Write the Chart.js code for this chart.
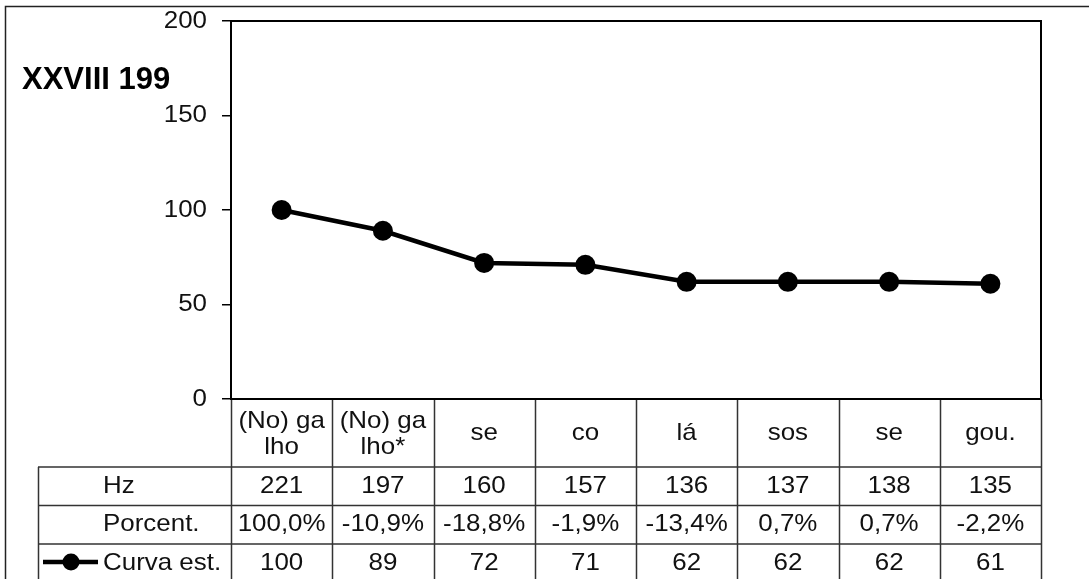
<!DOCTYPE html>
<html>
<head>
<meta charset="utf-8">
<script src="https://cdn.jsdelivr.net/npm/chart.js@4/dist/chart.umd.min.js"></script>
<style>
  html, body { margin: 0; padding: 0; background: #fff; }
  #wrap { width: 1089px; height: 579px; position: relative; }
</style>
</head>
<body>
<div id="wrap"><canvas id="myChart"></canvas></div>
<script>
// data
var title = "XXVIII 199";
var categories = [["(No) ga", "lho"], ["(No) ga", "lho*"], ["se"], ["co"], ["lá"], ["sos"], ["se"], ["gou."]];
var hzValues = ["221", "197", "160", "157", "136", "137", "138", "135"];
var percentValues = ["100,0%", "-10,9%", "-18,8%", "-1,9%", "-13,4%", "0,7%", "0,7%", "-2,2%"];
var curveValues = [100, 89, 72, 71, 62, 62, 62, 61];
var rowLabels = ["Hz", "Porcent.", "Curva est."];
var yTicks = [0, 50, 100, 150, 200];

var FONT = "'Liberation Sans', Arial, sans-serif";
var STRETCH = 1.08; // the original text is a bit wider than normal

function wideText(c, txt, x, y, align) {
    c.save();
    c.translate(x, y);
    c.scale(STRETCH, 1);
    c.textAlign = align;
    c.fillText(txt, 0, 0);
    c.restore();
}

// draws the frame, the title, y labels and the data table under the plot
var tablePlugin = {
    id: 'dataTable',
    afterDraw: function(chart) {
        var c = chart.ctx;
        var area = chart.chartArea;
        var x = chart.scales.x;
        var y = chart.scales.y;
        var n = categories.length;
        var colW = (area.right - area.left) / n;
        var catBottom = 467, row1 = 505.5, row2 = 544, tableLeft = 38;

        c.save();
        // outer frame (cut off right and bottom like the original)
        c.strokeStyle = '#222';
        c.lineWidth = 1.5;
        c.strokeRect(5.5, 6.5, 1200, 700);

        // title
        c.fillStyle = '#000';
        c.font = 'bold 31px ' + FONT;
        c.textAlign = 'left';
        c.textBaseline = 'alphabetic';
        c.fillText(title, 22, 89);

        // table lines
        c.strokeStyle = '#333';
        c.lineWidth = 1.5;
        c.beginPath();
        for (var i = 0; i <= n; i++) {
            var lx = Math.round(area.left + i * colW) + 0.5;
            c.moveTo(lx, area.bottom);
            c.lineTo(lx, 579);
        }
        c.moveTo(tableLeft + 0.5, catBottom);
        c.lineTo(tableLeft + 0.5, 579);
        [catBottom, row1, row2].forEach(function(yy) {
            c.moveTo(tableLeft, yy);
            c.lineTo(area.right, yy);
        });
        c.stroke();

        // plot border
        c.strokeStyle = '#000';
        c.lineWidth = 2;
        c.strokeRect(area.left, area.top, area.right - area.left, area.bottom - area.top);

        c.fillStyle = '#111';
        c.font = '24px ' + FONT;
        c.textBaseline = 'middle';

        // y tick labels
        yTicks.forEach(function(v) {
            wideText(c, String(v), 207, y.getPixelForValue(v), 'right');
        });

        // table texts
        var catMid = (area.bottom + catBottom) / 2;
        for (var j = 0; j < n; j++) {
            var cx = x.getPixelForValue(j);
            var lines = categories[j];
            if (lines.length == 1) {
                wideText(c, lines[0], cx, catMid, 'center');
            } else {
                wideText(c, lines[0], cx, catMid - 12, 'center');
                wideText(c, lines[1], cx, catMid + 14, 'center');
            }
            wideText(c, hzValues[j], cx, (catBottom + row1) / 2, 'center');
            wideText(c, percentValues[j], cx, (row1 + row2) / 2, 'center');
            wideText(c, String(curveValues[j]), cx, row2 + 19, 'center');
        }

        wideText(c, rowLabels[0], 103, (catBottom + row1) / 2, 'left');
        wideText(c, rowLabels[1], 103, (row1 + row2) / 2, 'left');
        wideText(c, rowLabels[2], 103, row2 + 19, 'left');

        // legend key
        c.strokeStyle = '#000';
        c.lineWidth = 4.5;
        c.beginPath();
        c.moveTo(43, row2 + 18);
        c.lineTo(98, row2 + 18);
        c.stroke();
        c.beginPath();
        c.arc(71, row2 + 18, 8.5, 0, Math.PI * 2);
        c.fillStyle = '#000';
        c.fill();
        c.restore();
    }
};

var ctx = document.getElementById('myChart').getContext('2d');
var chart = new Chart(ctx, {
    type: 'line',
    data: {
        labels: categories.map(function(l) { return l.join(' '); }),
        datasets: [{
            label: rowLabels[2],
            data: curveValues,
            borderColor: '#000',
            backgroundColor: '#000',
            borderWidth: 4.5,
            pointRadius: 10,
            pointHoverRadius: 10,
            pointBackgroundColor: '#000',
            pointBorderWidth: 0,
            tension: 0,
            clip: false
        }]
    },
    options: {
        responsive: true,
        maintainAspectRatio: false,
        animation: false,
        events: [],
        layout: { padding: { top: 21, right: 48, bottom: 180, left: 0 } },
        plugins: {
            legend: { display: false },
            tooltip: { enabled: false }
        },
        scales: {
            x: {
                type: 'category',
                offset: true,
                display: false
            },
            y: {
                min: 0,
                max: 200,
                afterFit: function(scale) { scale.width = 231; },
                afterBuildTicks: function(scale) {
                    scale.ticks = yTicks.map(function(v) { return { value: v }; });
                },
                border: { display: true, color: '#000', width: 2 },
                grid: {
                    drawOnChartArea: false,
                    drawTicks: true,
                    tickLength: 9,
                    color: '#000',
                    lineWidth: 1.5
                },
                ticks: { display: false }
            }
        }
    },
    plugins: [tablePlugin]
});
</script>
</body>
</html>
